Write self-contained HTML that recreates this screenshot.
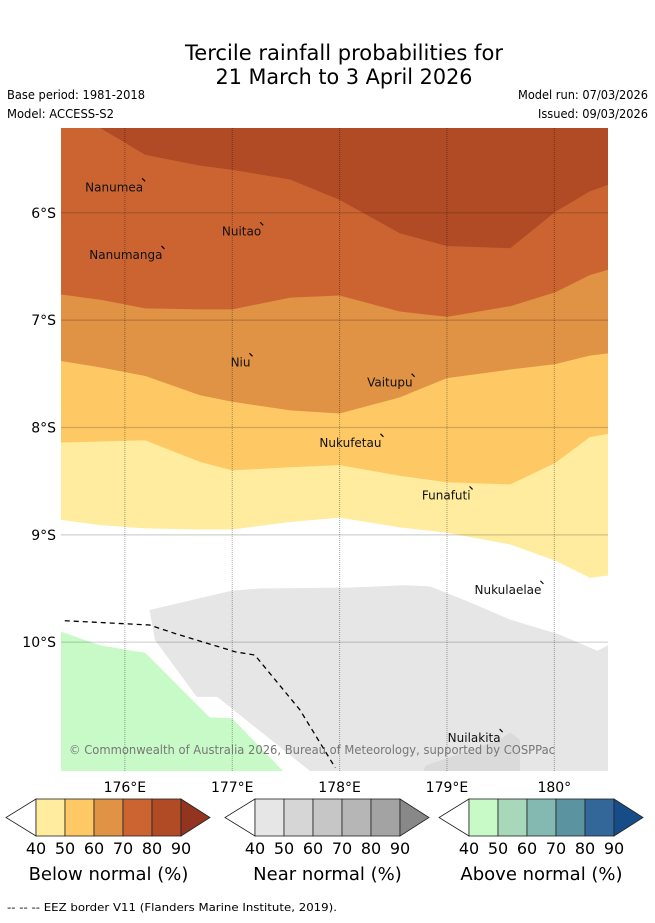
<!DOCTYPE html>
<html><head><meta charset="utf-8">
<style>
html,body{margin:0;padding:0;background:#fff;}
body{width:655px;height:919px;overflow:hidden;font-family:"DejaVu Sans","Liberation Sans",sans-serif;}
svg text{font-family:"DejaVu Sans","Liberation Sans",sans-serif;}
</style></head>
<body>
<svg id="chart" width="655" height="919" viewBox="0 0 655 919" xmlns="http://www.w3.org/2000/svg">
  <text x="344" y="60" font-size="21" text-anchor="middle" textLength="318" lengthAdjust="spacingAndGlyphs">Tercile rainfall probabilities for</text>
  <text x="344" y="84" font-size="21" text-anchor="middle" textLength="257" lengthAdjust="spacingAndGlyphs">21 March to 3 April 2026</text>
  <text x="7" y="99" font-size="12" textLength="138" lengthAdjust="spacingAndGlyphs">Base period: 1981-2018</text>
  <text x="7" y="118" font-size="12" textLength="107" lengthAdjust="spacingAndGlyphs">Model: ACCESS-S2</text>
  <text x="648" y="99" font-size="12" text-anchor="end" textLength="130" lengthAdjust="spacingAndGlyphs">Model run: 07/03/2026</text>
  <text x="648" y="118" font-size="12" text-anchor="end" textLength="110" lengthAdjust="spacingAndGlyphs">Issued: 09/03/2026</text>
  <defs><clipPath id="mapclip"><rect x="61" y="128" width="547" height="643"/></clipPath></defs>
  <g id="map" clip-path="url(#mapclip)"></g>
  <g id="overlay"></g>
  <g id="legend"></g>
  <text x="7" y="911" font-size="11" textLength="330" lengthAdjust="spacingAndGlyphs">--  --  -- EEZ border V11 (Flanders Marine Institute, 2019).</text>
</svg>
<script>
// Map extent
const lonMin = 175.405, lonMax = 180.5, latTop = -5.21, latBot = -11.2;
// Boundary longitudes
const boundaryLons = [175.4,175.77,176.19,176.7,177,177.54,178,178.56,179,179.59,180.01,180.33,180.5];
// Below-normal probability contour latitudes (southern edge of each level)
const below40 = [-8.86,-8.91,-8.94,-8.95,-8.95,-8.88,-8.84,-8.93,-8.98,-9.09,-9.24,-9.40,-9.38];
const below50 = [-8.14,-8.13,-8.12,-8.32,-8.40,-8.37,-8.35,-8.45,-8.51,-8.53,-8.33,-8.09,-8.06];
const below60 = [-7.38,-7.44,-7.52,-7.70,-7.76,-7.84,-7.87,-7.72,-7.54,-7.46,-7.41,-7.33,-7.31];
const below70 = [-6.76,-6.81,-6.89,-6.90,-6.90,-6.79,-6.77,-6.92,-6.97,-6.87,-6.74,-6.58,-6.53];
const below80 = [-4.9,-5.21,-5.46,-5.56,-5.60,-5.69,-5.88,-6.19,-6.31,-6.33,-5.99,-5.80,-5.74];
// Near-normal 40% region
const nearLons = [176.23,176.70,177.00,177.26,178.10,178.61,178.84,179.17,179.59,180.05,180.40,180.5,180.5,177.85,176.86,176.67,176.28];
const nearLats = [-9.70,-9.59,-9.52,-9.50,-9.49,-9.47,-9.48,-9.61,-9.79,-9.93,-10.08,-10.03,-11.3,-11.3,-10.51,-10.51,-9.98];
// Near-normal 50% patch
const near50Lons = [178.75,178.80,179.49,179.59,179.68,179.68];
const near50Lats = [-11.3,-11.15,-10.91,-10.84,-10.91,-11.3];
// Above-normal 40% region
const aboveLons = [175.3,175.40,175.77,176.19,176.79,177.00,177.57,175.3];
const aboveLats = [-9.86,-9.90,-10.03,-10.10,-10.70,-10.71,-11.3,-11.3];
// EEZ border
const eezLons = [175.44,176.23,176.47,177.03,177.21,177.63,177.96];
const eezLats = [-9.80,-9.84,-9.92,-10.09,-10.12,-10.63,-11.17];
// Ticks
const lonTicks = [176,177,178,179,180];
const lonTickLabels = ["176°E","177°E","178°E","179°E","180°"];
const latTicks = [-6,-7,-8,-9,-10];
const latTickLabels = ["6°S","7°S","8°S","9°S","10°S"];
// Islands
const islandNames = ["Nanumea","Nuitao","Nanumanga","Niu","Vaitupu","Nukufetau","Funafuti","Nukulaelae","Nuilakita"];
const islandLons = [176.17,177.27,176.35,177.17,178.68,178.39,179.22,179.88,179.50];
const islandLats = [-5.80,-6.21,-6.43,-7.43,-7.62,-8.18,-8.67,-9.55,-10.93];
// Legend
const legendTicks = ["40","50","60","70","80","90"];
const belowColors = ["#ffec9f","#fec964","#e09245","#cc6432","#b04b25","#923420"];
const nearColors = ["#e6e6e6","#d6d6d6","#c6c6c6","#b6b6b6","#a3a3a3","#888888"];
const aboveColors = ["#c8fac8","#a7d8ba","#84b9b2","#5b93a1","#336699","#164d88"];
const legendTitles = ["Below normal (%)","Near normal (%)","Above normal (%)"];

const NS = "http://www.w3.org/2000/svg";
const xS = lon => 61 + (lon - lonMin) / (lonMax - lonMin) * 547;
const yS = lat => 128 + (latTop - lat) / (latTop - latBot) * 643;
function mk(tag, attrs, parent){ const e=document.createElementNS(NS,tag); for(const k in attrs) e.setAttribute(k,attrs[k]); parent.appendChild(e); return e; }
const map = document.getElementById('map');
const ov = document.getElementById('overlay');

function bandPath(lats){
  let d = "M" + xS(boundaryLons[0]) + "," + (yS(latTop)-5);
  boundaryLons.forEach((lo,i)=>{ d += " L" + xS(lo) + "," + yS(lats[i]); });
  d += " L" + xS(boundaryLons[boundaryLons.length-1]) + "," + (yS(latTop)-5) + " Z";
  return d;
}
function polyPath(lons, lats){
  return lons.map((lo,i)=>(i?"L":"M")+xS(lo)+","+yS(lats[i])).join(" ")+" Z";
}
const bands = [below40,below50,below60,below70,below80];
const bandNames = ['below-normal-40','below-normal-50','below-normal-60','below-normal-70','below-normal-80'];
bands.forEach((b,i)=>{
  const p = mk('path',{d:bandPath(b),fill:belowColors[i]},map);
  
  
});
let p = mk('path',{d:polyPath(nearLons,nearLats),fill:nearColors[0]},map);


p = mk('path',{d:polyPath(near50Lons,near50Lats),fill:"#dadada"},map);


p = mk('path',{d:polyPath(aboveLons,aboveLats),fill:aboveColors[0]},map);



// gridlines
lonTicks.forEach((lo,i)=>{
  const l = mk('line',{x1:xS(lo),x2:xS(lo),y1:128,y2:771,stroke:"rgba(0,0,0,0.35)","stroke-width":1,"stroke-dasharray":"1,1"},map);
  
  
  const t = mk('text',{x:xS(lo),y:792,"font-size":14,"text-anchor":"middle"},ov);
  
  
  t.textContent = lonTickLabels[i];
});
latTicks.forEach((la,i)=>{
  const l = mk('line',{x1:61,x2:608,y1:yS(la),y2:yS(la),stroke:"rgba(0,0,0,0.18)","stroke-width":1.2},map);
  
  
  const t = mk('text',{x:56,y:yS(la)+5,"font-size":14,"text-anchor":"end"},ov);
  
  
  t.textContent = latTickLabels[i];
});
// EEZ
const eez = mk('path',{d:eezLons.map((lo,i)=>(i?"L":"M")+xS(lo)+","+yS(eezLats[i])).join(" "),fill:"none",stroke:"#000","stroke-width":1.3,"stroke-dasharray":"5,4"},map);


// islands
islandNames.forEach((n,i)=>{
  const t = mk('text',{x:xS(islandLons[i]),y:yS(islandLats[i]),"font-size":12,"text-anchor":"end",fill:"#111"},ov);
  
  
  t.textContent = n;
  const m = mk('line',{x1:xS(islandLons[i])-1,y1:yS(islandLats[i])-13,x2:xS(islandLons[i])+2,y2:yS(islandLats[i])-10,stroke:"#000","stroke-width":1.2},ov);
  
  
});
const cp = mk('text',{x:69,y:754,"font-size":12,fill:"#777",textLength:486,lengthAdjust:"spacingAndGlyphs"},ov);


cp.textContent = "© Commonwealth of Australia 2026, Bureau of Meteorology, supported by COSPPac";

// legends
const lg = document.getElementById('legend');
const sets = [belowColors, nearColors, aboveColors];
const starts = [6, 225, 439];
const lgNames = ['below-normal-colorbar','near-normal-colorbar','above-normal-colorbar'];
sets.forEach((cols,k)=>{
  const g = mk('g',{},lg);
  
  
  const x0 = starts[k], bx = x0+30, w = 29, yT = 799, yB = 836, ym = (yT+yB)/2;
  mk('path',{d:`M${bx},${yT} L${x0},${ym} L${bx},${yB} Z`,fill:"#fff",stroke:"#222","stroke-width":0.8},g);
  for(let i=0;i<5;i++){
    mk('rect',{x:bx+i*w,y:yT,width:w,height:yB-yT,fill:cols[i],stroke:"#222","stroke-width":0.8},g);
  }
  const ex = bx+5*w;
  mk('path',{d:`M${ex},${yT} L${ex+29},${ym} L${ex},${yB} Z`,fill:cols[5],stroke:"#222","stroke-width":0.8},g);
  legendTicks.forEach((t,i)=>{
    const tx = mk('text',{x:bx+i*w,y:854,"font-size":16,"text-anchor":"middle"},g);
    
    
    tx.textContent = t;
  });
  const tt = mk('text',{x:bx+2.5*w,y:880,"font-size":18,"text-anchor":"middle"},g);
  
  
  tt.textContent = legendTitles[k];
});
</script>
</body></html>
